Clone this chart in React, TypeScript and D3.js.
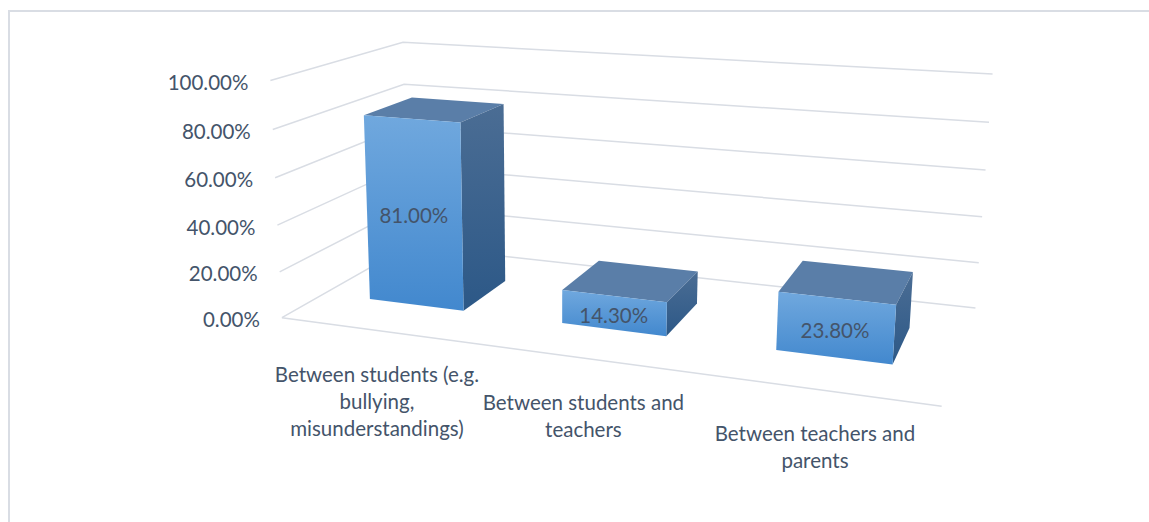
import React from "react";
import * as d3 from "d3";

const categories = [
  "Between students (e.g. bullying, misunderstandings)",
  "Between students and teachers",
  "Between teachers and parents",
];
const values = [0.81, 0.143, 0.238];
const yTicks = [0, 0.2, 0.4, 0.6, 0.8, 1.0];

// Perspective camera (3x4, last entry 1) mapping world (X, Y, Z) in the unit
// plot box to screen pixels: X along categories, Y up, Z into the page.
const CAMERA = [
  [510.608313, -22.326595, 196.903801, 281.905443],
  [24.115708, -240.380722, -29.343512, 317.709949],
  [-0.158382, -0.039973, 0.172698, 1],
];

function project(X: number, Y: number, Z: number): [number, number] {
  const [a, b, c] = CAMERA;
  const w = c[0] * X + c[1] * Y + c[2] * Z + c[3];
  return [
    (a[0] * X + a[1] * Y + a[2] * Z + a[3]) / w,
    (b[0] * X + b[1] * Y + b[2] * Z + b[3]) / w,
  ];
}

const W = 1149, H = 522;
const FONT = "Lato, 'Open Sans', sans-serif";
const FONT_SIZE = 20.5;
const TEXT = "#44546a";
const GRID = "#d9dde4";

const xBand = d3
  .scaleBand<number>()
  .domain(d3.range(categories.length))
  .range([0, 1])
  .paddingInner(0.5)
  .paddingOuter(0.25);
const yScale = d3.scaleLinear().domain([0, 1]).range([0, 1]);
const zScale = d3.scaleLinear().domain([0, 1]).range([0.305, 0.69]);
const pct = d3.format(".2%");

const path = (pts: [number, number][]) => "M" + pts.map((p) => p.join(",")).join("L") + "Z";

let ctx: CanvasRenderingContext2D | null = null;
function textWidth(s: string) {
  if (!ctx) ctx = document.createElement("canvas").getContext("2d");
  if (!ctx) return s.length * FONT_SIZE * 0.5;
  ctx.font = `${FONT_SIZE}px ${FONT}`;
  return ctx.measureText(s).width;
}

function wrap(label: string, maxWidth: number) {
  const lines: string[] = [];
  let line = "";
  label.split(" ").forEach((word) => {
    const next = line ? line + " " + word : word;
    if (line && textWidth(next) > maxWidth) {
      lines.push(line);
      line = word;
    } else line = next;
  });
  if (line) lines.push(line);
  return lines;
}

export default function App() {
  const z0 = zScale(0), z1 = zScale(1);
  return (
    <svg width={W} height={H} style={{ position: "absolute", left: 0, top: 0, background: "#fff" }}>
      <defs>
        <linearGradient id="front" x1="0" y1="0" x2="0" y2="1">
          <stop offset="0" stopColor="#70a8de" />
          <stop offset="1" stopColor="#4288ce" />
        </linearGradient>
        <linearGradient id="side" x1="0" y1="0" x2="0" y2="1">
          <stop offset="0" stopColor="#4b6d94" />
          <stop offset="1" stopColor="#2c5887" />
        </linearGradient>
      </defs>
      <rect x={9} y={11} width={1300} height={700} fill="none" stroke={GRID} strokeWidth={2} />

      {/* side-wall and back-wall gridlines */}
      {yTicks.map((t) => {
        const a = project(0, yScale(t), 0), b = project(0, yScale(t), 1), c = project(1, yScale(t), 1);
        return <path key={t} d={`M${a}L${b}L${c}`} fill="none" stroke={GRID} strokeWidth={1.5} />;
      })}
      {/* category axis along the front of the floor */}
      <path d={`M${project(0, 0, 0)}L${project(1, 0, 0)}`} stroke={GRID} strokeWidth={1.5} />

      {/* value axis labels */}
      {yTicks.map((t) => {
        const [x, y] = project(0, yScale(t), 0);
        return (
          <text key={t} x={x - 22} y={y + 1.5} textAnchor="end" dominantBaseline="central"
            fontFamily={FONT} fontSize={FONT_SIZE} fill={TEXT}>
            {pct(t)}
          </text>
        );
      })}

      {/* bars */}
      {values.map((v, i) => {
        const x0 = xBand(i)!, x1 = x0 + xBand.bandwidth();
        const h = yScale(v);
        const [lx, ly] = project((x0 + x1) / 2, h / 2, z0);
        return (
          <g key={i}>
            <path d={path([project(x0, h, z0), project(x1, h, z0), project(x1, h, z1), project(x0, h, z1)])} fill="#5a7ea8" />
            <path d={path([project(x1, 0, z0), project(x1, h, z0), project(x1, h, z1), project(x1, 0, z1)])} fill="url(#side)" />
            <path d={path([project(x0, 0, z0), project(x1, 0, z0), project(x1, h, z0), project(x0, h, z0)])} fill="url(#front)" />
            <text x={lx} y={ly + 2} textAnchor="middle" dominantBaseline="central"
              fontFamily={FONT} fontSize={FONT_SIZE} fill={TEXT}>
              {pct(v)}
            </text>
          </g>
        );
      })}

      {/* category labels */}
      {categories.map((c, i) => {
        const [x, y] = project(xBand(i)! + xBand.bandwidth() / 2, 0, 0);
        return (
          <text key={c} x={x} y={y + 52} textAnchor="middle" fontFamily={FONT} fontSize={FONT_SIZE} fill={TEXT}>
            {wrap(c, 215).map((line, k) => (
              <tspan key={k} x={x} dy={k === 0 ? 0 : 27}>{line}</tspan>
            ))}
          </text>
        );
      })}
    </svg>
  );
}
